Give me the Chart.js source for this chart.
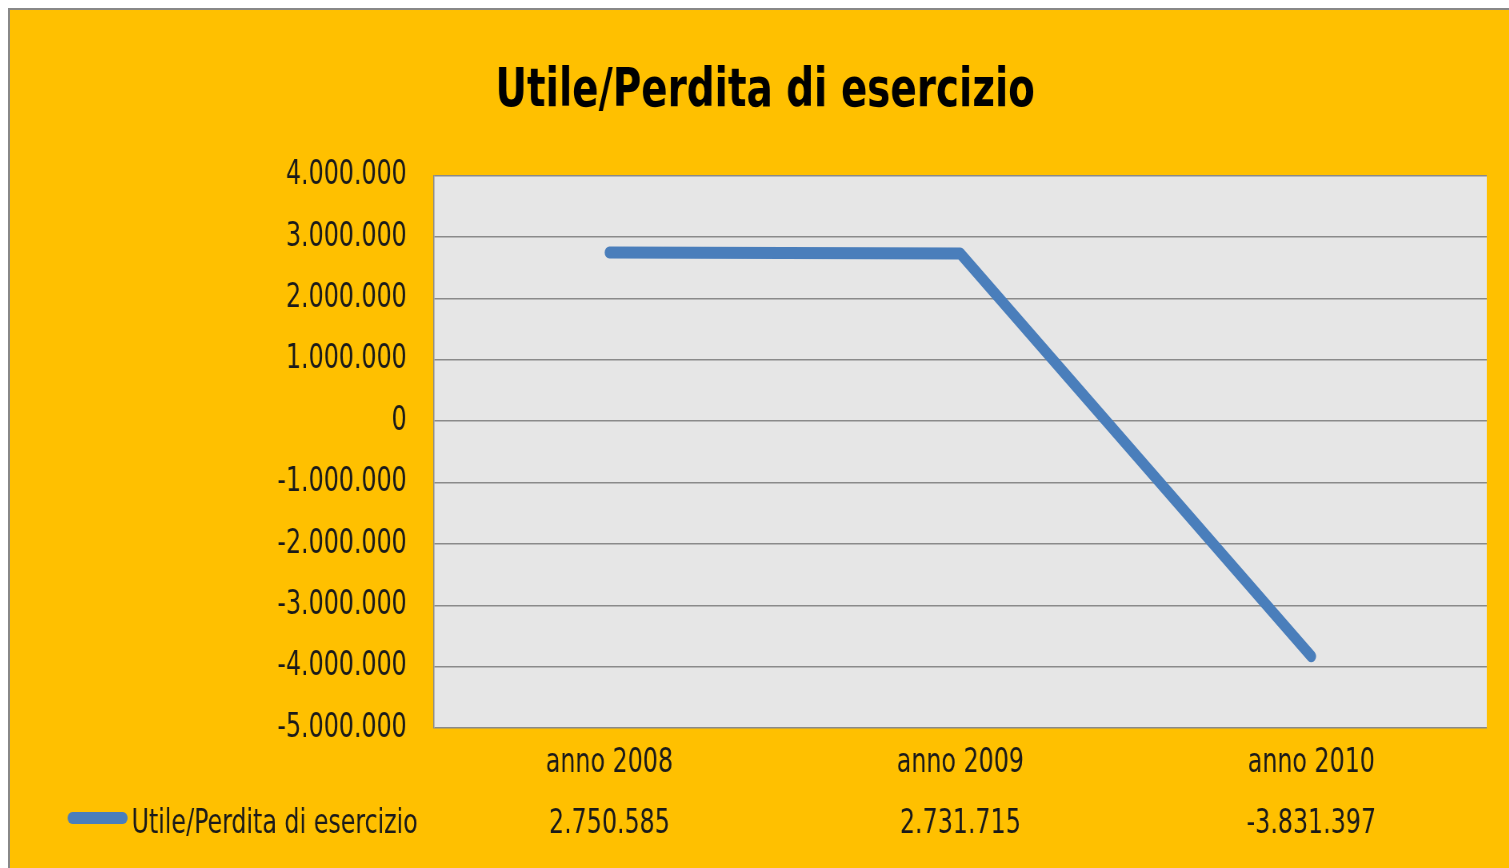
<!DOCTYPE html>
<html lang="it">
<head>
  <meta charset="UTF-8">
  <meta name="viewport" content="width=device-width, initial-scale=1.0">
  <script src="https://cdn.jsdelivr.net/npm/chart.js@4.4.1/dist/chart.umd.min.js" charset="utf-8"></script>
  <title>Utile/Perdita di esercizio</title>
  <style>
    body { margin: 0; background: #fff; overflow: hidden; }
    #box {
      position: absolute; left: 8px; top: 8px;
      width: 1499px; height: 858px; overflow: hidden;
      border-left: 2px solid #888; border-top: 2px solid #888;
      background: #FFC000;
    }
    /* the original picture has narrow, tall lettering: draw wide, squeeze horizontally */
    #myChart { transform: scaleX(0.8); transform-origin: 0 0; }
  </style>
</head>
<body>
  <div id="box"><canvas id="myChart" width="1874" height="858"></canvas></div>
  <script type="text/javascript">
    const anni = ['anno 2008', 'anno 2009', 'anno 2010']
    const utile = [2750585, 2731715, -3831397]
    const serieLabel = 'Utile/Perdita di esercizio'
    const yMin = -5000000
    const yMax = 4000000
    const yStep = 1000000

    const FONT = '"DejaVu Sans Condensed", "DejaVu Sans", sans-serif'
    const blu = '#4A7EBB'

    // 1234567 -> "1.234.567"
    function formatIt(v) {
      let s = Math.abs(Math.round(v)).toString()
      s = s.replace(/\B(?=(\d{3})+(?!\d))/g, '.')
      return (v < 0 ? '-' : '') + s
    }

    // grey plot area
    const plotBg = {
      id: 'plotBg',
      beforeDraw(chart) {
        const { ctx, chartArea: a } = chart
        ctx.save()
        ctx.fillStyle = '#E6E6E6'
        ctx.fillRect(a.left, a.top, a.right - a.left, a.bottom - a.top)
        ctx.restore()
      }
    }

    // data table row under the category labels (legend key + values)
    const dataTable = {
      id: 'dataTable',
      afterDraw(chart) {
        const { ctx, chartArea: a } = chart
        const x = chart.scales.x
        const ds = chart.data.datasets[0]
        const base = a.bottom + 105
        ctx.save()
        ctx.font = '33px ' + FONT
        ctx.fillStyle = '#1a1a1a'
        ctx.textBaseline = 'alphabetic'

        ctx.strokeStyle = ds.borderColor
        ctx.lineWidth = 12
        ctx.lineCap = 'round'
        ctx.beginPath()
        ctx.moveTo(78, base - 15)
        ctx.lineTo(141, base - 15)
        ctx.stroke()

        ctx.textAlign = 'left'
        ctx.fillText(ds.label, 152, base)

        ctx.textAlign = 'center'
        ds.data.forEach((v, i) => {
          ctx.fillText(formatIt(v), x.getPixelForValue(i), base)
        })
        ctx.restore()
      }
    }

    function makeChart() {
      let ctx = document.getElementById('myChart').getContext('2d')
      let myChart = new Chart(ctx, {
        type: 'line',
        data: {
          labels: anni,
          datasets: [{
            label: serieLabel,
            data: utile,
            borderColor: blu,
            backgroundColor: blu,
            borderWidth: 12,
            borderCapStyle: 'round',
            borderJoinStyle: 'round',
            pointRadius: 0,
            pointHoverRadius: 0,
            tension: 0
          }]
        },
        options: {
          responsive: false,
          animation: false,
          layout: { padding: { left: 42, right: 28, top: 0, bottom: 0 } },
          plugins: {
            legend: { display: false },
            tooltip: { enabled: false },
            title: {
              display: true,
              text: 'Utile/Perdita di esercizio',
              color: '#000',
              font: { family: FONT, size: 54, weight: 'bold' },
              padding: { top: 50, bottom: 51 }
            }
          },
          scales: {
            x: {
              offset: true,
              grid: { display: false, drawTicks: false },
              border: { display: false },
              ticks: { color: '#1a1a1a', padding: 16, font: { family: FONT, size: 33 } },
              afterFit(scale) { scale.height = 140 }
            },
            y: {
              min: yMin,
              max: yMax,
              grid: { color: '#8A8A8A', lineWidth: 1.5, drawTicks: false },
              border: { display: true, color: '#8A8A8A', width: 1.5 },
              ticks: {
                stepSize: yStep,
                color: '#1a1a1a',
                padding: 34,
                font: { family: FONT, size: 33 },
                callback: function(value) {
                  return formatIt(value)
                }
              },
              afterFit(scale) { scale.width = 488 }
            }
          }
        },
        plugins: [plotBg, dataTable]
      })
    }

    makeChart()
  </script>
</body>
</html>
